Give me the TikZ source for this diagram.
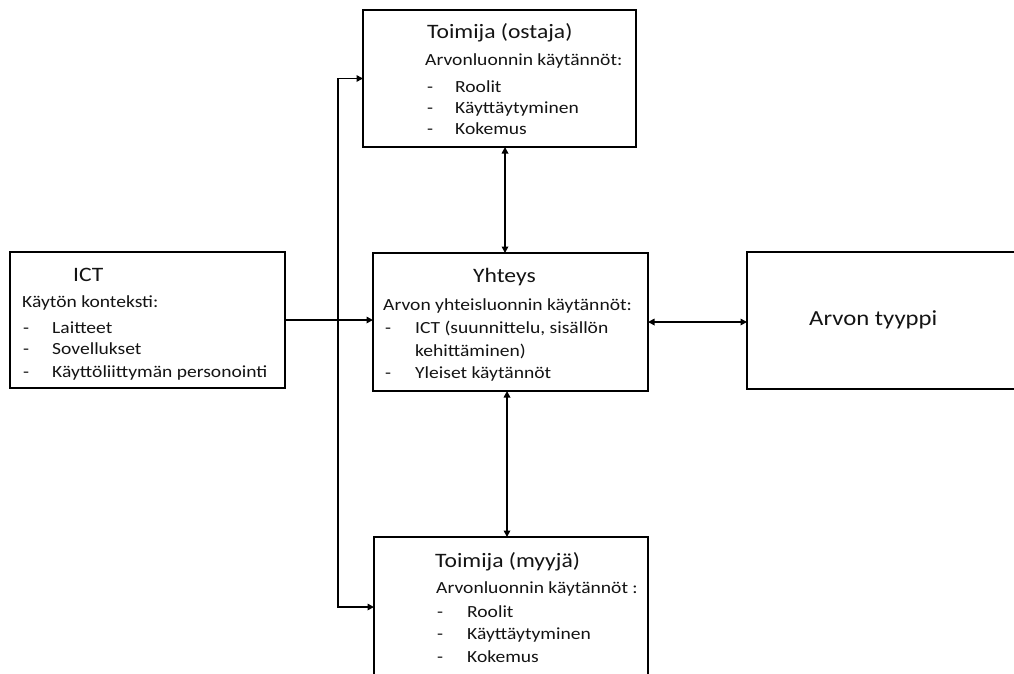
\documentclass[tikz,border=0pt]{standalone}
\usepackage{fontspec}
\setmainfont{Carlito}[FakeStretch=1.15]
\usetikzlibrary{arrows.meta}
\newcommand\hdfont{\fontsize{20.5}{24}\selectfont}
\newcommand\bdfont{\fontsize{17}{20}\selectfont}
\newcommand\bigfont{\fontsize{21.5}{26}\selectfont}
\begin{document}
\begin{tikzpicture}[x=1pt,y=-1pt,
  box/.style={draw=black, line width=2pt, fill=white, inner sep=0pt, outer sep=0pt},
  hd/.style={anchor=base west, inner sep=0pt, font=\hdfont, text=black!92},
  bd/.style={anchor=base west, inner sep=0pt, font=\bdfont, text=black!92},
  arr/.style={line width=1.6pt, -{Triangle[length=6.5pt,width=6.5pt]}},
  darr/.style={line width=1.6pt, {Triangle[length=6.5pt,width=6.5pt]}-{Triangle[length=6.5pt,width=6.5pt]}}]
\clip (0,0) rectangle (1014,673);
\fill[white] (0,0) rectangle (1014,673);

% boxes
\node[box, minimum width=273pt, minimum height=137pt] (top) at (499.5,78.5) {};
\node[box, minimum width=275pt, minimum height=136pt] (ict) at (147.5,320) {};
\node[box, minimum width=275pt, minimum height=138pt] (yht) at (510.5,322) {};
\node[box, minimum width=280pt, minimum height=137pt] (arv) at (887,320.5) {};
\node[box, minimum width=274pt, minimum height=140pt] (bot) at (511,607) {};

% top box text
\node[hd] (t1) at (427,38) {Toimija (ostaja)};
\node[bd] (t2) at (425,65) {Arvonluonnin käytännöt:};
\node[bd] (t3d) at (427,92) {-};
\node[bd] (t3) at (455,92) {Roolit};
\node[bd] (t4d) at (427,113) {-};
\node[bd] (t4) at (455,113) {Käyttäytyminen};
\node[bd] (t5d) at (427,134) {-};
\node[bd] (t5) at (455,134) {Kokemus};

% ICT box text
\node[hd] (i1) at (73,281) {ICT};
\node[bd] (i2) at (22,307) {Käytön konteksti:};
\node[bd] (i3d) at (23,333) {-};
\node[bd] (i3) at (52,333) {Laitteet};
\node[bd] (i4d) at (23,354) {-};
\node[bd] (i4) at (52,354) {Sovellukset};
\node[bd] (i5d) at (23,377) {-};
\node[bd] (i5) at (52,377) {Käyttöliittymän personointi};

% centre box text
\node[hd] (y1) at (473,282) {Yhteys};
\node[bd] (y2) at (383,310) {Arvon yhteisluonnin käytännöt:};
\node[bd] (y3d) at (385,333) {-};
\node[bd] (y3) at (415,333) {ICT (suunnittelu, sisällön};
\node[bd] (y4) at (415,356) {kehittäminen)};
\node[bd] (y5d) at (385,378) {-};
\node[bd] (y5) at (415,378) {Yleiset käytännöt};

% value type
\node[anchor=base west, inner sep=0pt, font=\bigfont, text=black!92] (a1) at (809,325) {Arvon tyyppi};

% bottom box text
\node[hd] (b1) at (435,567) {Toimija (myyjä)};
\node[bd] (b2) at (436,593) {Arvonluonnin käytännöt :};
\node[bd] (b3d) at (437,617) {-};
\node[bd] (b3) at (467,617) {Roolit};
\node[bd] (b4d) at (437,639) {-};
\node[bd] (b4) at (467,639) {Käyttäytyminen};
\node[bd] (b5d) at (437,662) {-};
\node[bd] (b5) at (467,662) {Kokemus};

% connectors
\coordinate (j) at (338,320);
\coordinate (ux) at (505,0);
\coordinate (lx) at (507,0);
\draw[arr] (ict.east) -- (ict.east -| yht.west);
\draw[arr] (j) |- (top.west);
\draw[arr] (j) |- (bot.west);
\draw[darr] (top.south -| ux) -- (yht.north -| ux);
\draw[darr] (yht.south -| lx) -- (bot.north -| lx);
\draw[darr] (yht.east) -- (yht.east -| arv.west);
\end{tikzpicture}
\end{document}
